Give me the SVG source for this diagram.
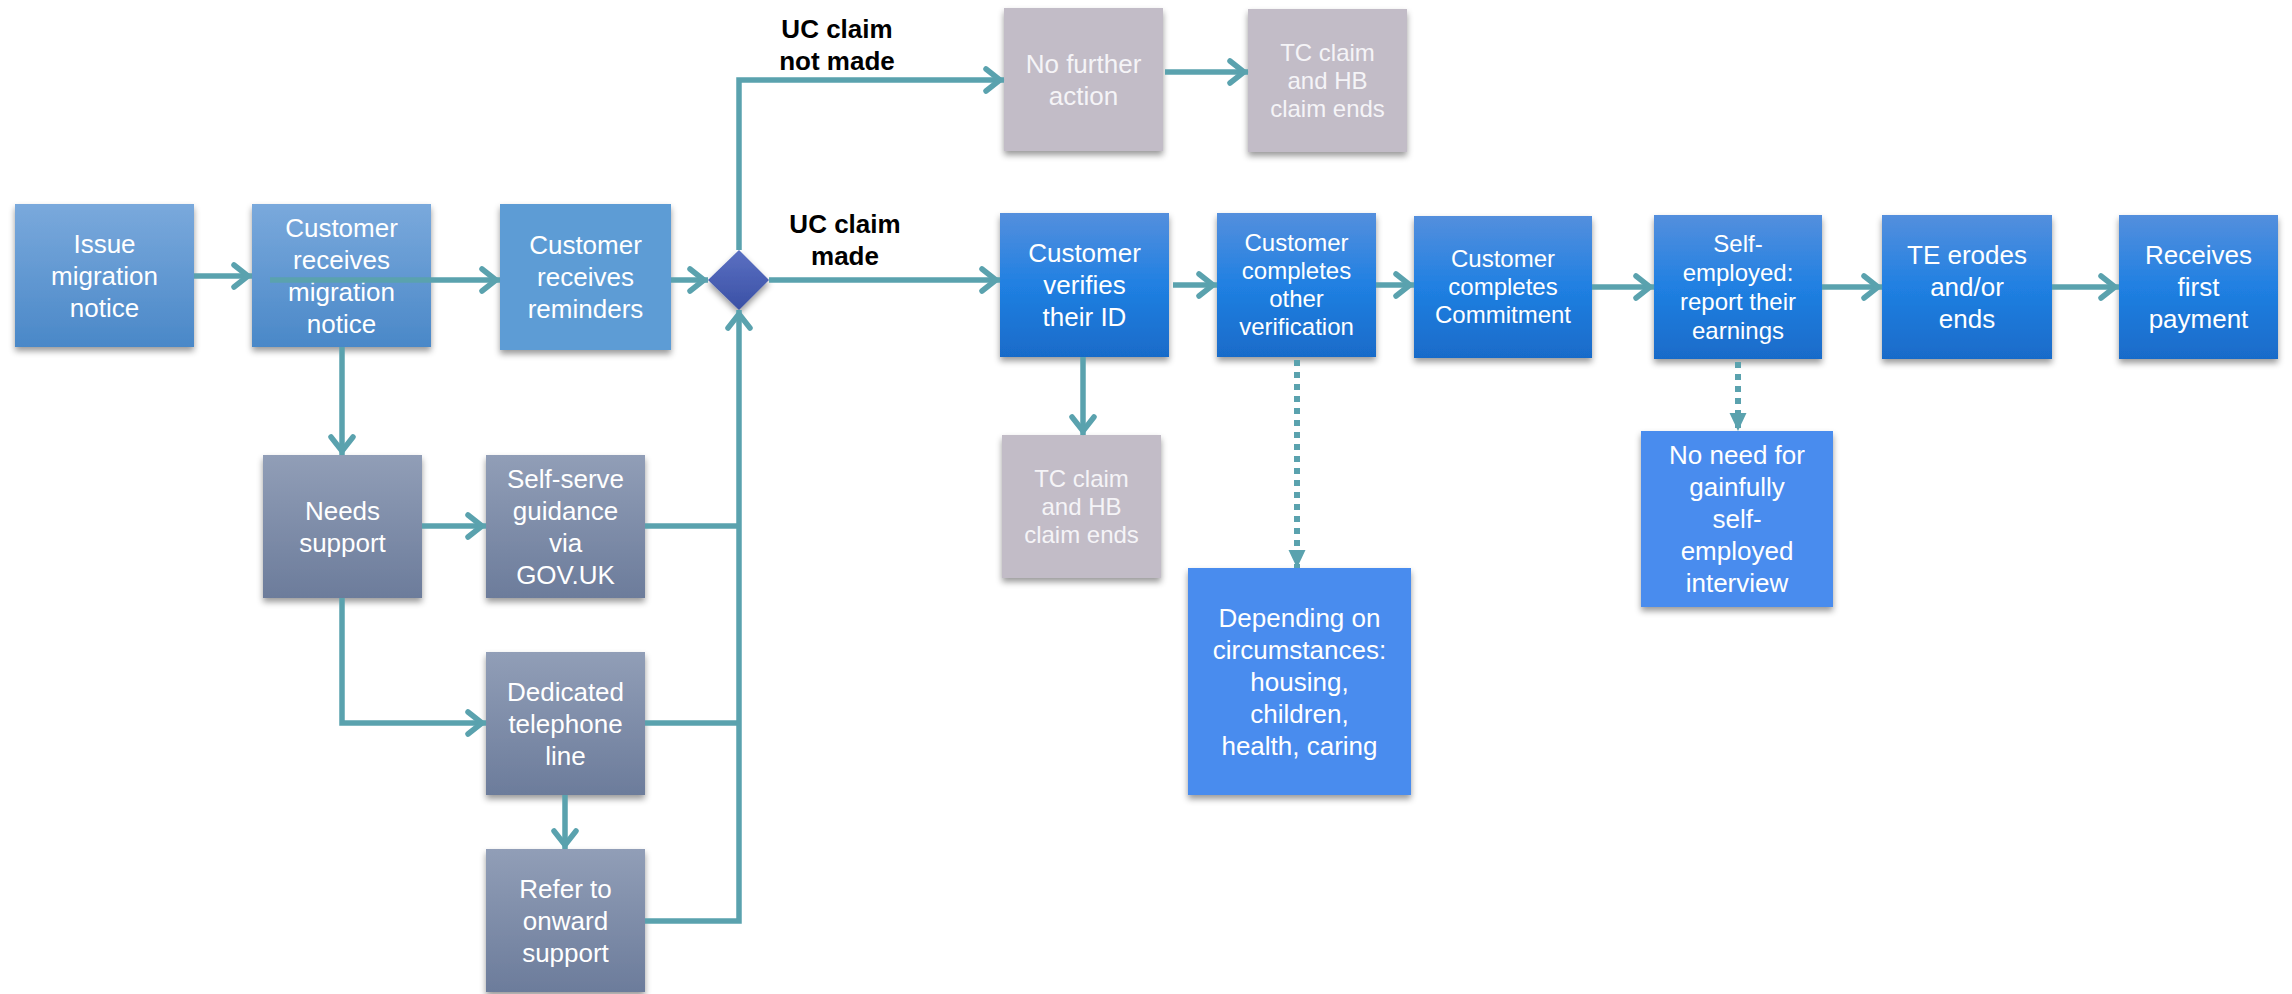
<svg xmlns="http://www.w3.org/2000/svg" width="2292" height="994" viewBox="0 0 2292 994">
<defs>
<linearGradient id="gLight" x1="0" y1="0" x2="0" y2="1"><stop offset="0" stop-color="#7AA9DC"/><stop offset="1" stop-color="#4A88C8"/></linearGradient>
<linearGradient id="gSlate" x1="0" y1="0" x2="0" y2="1"><stop offset="0" stop-color="#919EB7"/><stop offset="1" stop-color="#6C7C9B"/></linearGradient>
<linearGradient id="gBright" x1="0" y1="0" x2="0" y2="1"><stop offset="0" stop-color="#548FDD"/><stop offset="0.5" stop-color="#2080E2"/><stop offset="1" stop-color="#196BC9"/></linearGradient>
<linearGradient id="gDiamond" x1="0" y1="0" x2="0" y2="1"><stop offset="0" stop-color="#5B70C2"/><stop offset="1" stop-color="#3A50A5"/></linearGradient>
<filter id="sh" x="-10%" y="-10%" width="120%" height="130%"><feDropShadow dx="0" dy="4" stdDeviation="3" flood-color="#000" flood-opacity="0.4"/></filter>
<marker id="arr" markerUnits="userSpaceOnUse" markerWidth="30" markerHeight="34" viewBox="-22 -17 30 34" refX="4" refY="0" orient="auto"><path d="M-14,-11 L0,0 L-14,11" fill="none" stroke="#5AA2AE" stroke-width="5.5" stroke-linecap="round" stroke-linejoin="miter"/></marker>
<marker id="tri" markerUnits="userSpaceOnUse" markerWidth="22" markerHeight="22" viewBox="-20 -11 22 22" refX="0" refY="0" orient="auto"><path d="M-18,-8.5 L0,0 L-18,8.5 Z" fill="#5AA2AE"/></marker>
</defs>
<style>
.box{filter:url(#sh)}
.light{fill:url(#gLight)}
.flatlight{fill:#5D9CD5}
.slate{fill:url(#gSlate)}
.bright{fill:url(#gBright)}
.flat{fill:#4A8CEE}
.grey{fill:#C2BCC7}
text{font-family:"Liberation Sans",Arial,sans-serif;text-anchor:middle}
.t26{font-size:26px;fill:#FFFFFF}
.t24{font-size:24px;fill:#FFFFFF}
.tg{fill:#F5F4F7}
.lbl{font-size:26px;font-weight:bold;fill:#000000}
.c{fill:none;stroke:#5AA2AE;stroke-width:5.5;stroke-linejoin:miter}
.ca{marker-end:url(#arr)}
.d{fill:none;stroke:#5AA2AE;stroke-width:6;stroke-dasharray:6 6;marker-end:url(#tri)}
</style>
<rect width="2292" height="994" fill="#FFFFFF"/>

<g id="n-issue"><rect class="box light" x="15" y="204" width="179" height="143"/>
<text class="t26"><tspan x="104.5" y="252.6">Issue</tspan><tspan x="104.5" y="284.6">migration</tspan><tspan x="104.5" y="316.6">notice</tspan></text></g>

<g id="n-custrec"><rect class="box light" x="252" y="204" width="179" height="143"/>
<text class="t26"><tspan x="341.5" y="236.5">Customer</tspan><tspan x="341.5" y="268.5">receives</tspan><tspan x="341.5" y="300.5">migration</tspan><tspan x="341.5" y="332.5">notice</tspan></text></g>

<g id="n-reminders"><rect class="box flatlight" x="500" y="204" width="171" height="146"/>
<text class="t26"><tspan x="585.5" y="254">Customer</tspan><tspan x="585.5" y="286">receives</tspan><tspan x="585.5" y="318">reminders</tspan></text></g>

<g id="n-decision"><path class="box" d="M739,250 L769,280 L739,310 L708,280 Z" fill="url(#gDiamond)"/></g>

<g id="n-needs"><rect class="box slate" x="263" y="455" width="159" height="143"/>
<text class="t26"><tspan x="342.5" y="519.5">Needs</tspan><tspan x="342.5" y="551.5">support</tspan></text></g>

<g id="n-selfserve"><rect class="box slate" x="486" y="455" width="159" height="143"/>
<text class="t26"><tspan x="565.5" y="487.5">Self-serve</tspan><tspan x="565.5" y="519.5">guidance</tspan><tspan x="565.5" y="551.5">via</tspan><tspan x="565.5" y="583.5">GOV.UK</tspan></text></g>

<g id="n-phone"><rect class="box slate" x="486" y="652" width="159" height="143"/>
<text class="t26"><tspan x="565.5" y="700.5">Dedicated</tspan><tspan x="565.5" y="732.5">telephone</tspan><tspan x="565.5" y="764.5">line</tspan></text></g>

<g id="n-refer"><rect class="box slate" x="486" y="849" width="159" height="143"/>
<text class="t26"><tspan x="565.5" y="897.5">Refer to</tspan><tspan x="565.5" y="929.5">onward</tspan><tspan x="565.5" y="961.5">support</tspan></text></g>

<g id="n-nofurther"><rect class="box grey" x="1004" y="8" width="159" height="143"/>
<text class="t26 tg"><tspan x="1083.5" y="72.5">No further</tspan><tspan x="1083.5" y="104.5">action</tspan></text></g>

<g id="n-tcends1"><rect class="box grey" x="1248" y="9" width="159" height="143"/>
<text class="t24 tg"><tspan x="1327.5" y="60.9">TC claim</tspan><tspan x="1327.5" y="88.9">and HB</tspan><tspan x="1327.5" y="116.9">claim ends</tspan></text></g>

<g id="n-verifies"><rect class="box bright" x="1000" y="213" width="169" height="144"/>
<text class="t26"><tspan x="1084.5" y="262">Customer</tspan><tspan x="1084.5" y="294">verifies</tspan><tspan x="1084.5" y="326">their ID</tspan></text></g>

<g id="n-otherver"><rect class="box bright" x="1217" y="213" width="159" height="144"/>
<text class="t24"><tspan x="1296.5" y="251.4">Customer</tspan><tspan x="1296.5" y="279.4">completes</tspan><tspan x="1296.5" y="307.4">other</tspan><tspan x="1296.5" y="335.4">verification</tspan></text></g>

<g id="n-commitment"><rect class="box bright" x="1414" y="216" width="178" height="142"/>
<text class="t24"><tspan x="1503" y="267.4">Customer</tspan><tspan x="1503" y="295.4">completes</tspan><tspan x="1503" y="323.4">Commitment</tspan></text></g>

<g id="n-selfemp"><rect class="box bright" x="1654" y="215" width="168" height="144"/>
<text class="t24"><tspan x="1738" y="251.9">Self-</tspan><tspan x="1738" y="280.9">employed:</tspan><tspan x="1738" y="309.9">report their</tspan><tspan x="1738" y="338.9">earnings</tspan></text></g>

<g id="n-te"><rect class="box bright" x="1882" y="215" width="170" height="144"/>
<text class="t26"><tspan x="1967" y="264">TE erodes</tspan><tspan x="1967" y="296">and/or</tspan><tspan x="1967" y="328">ends</tspan></text></g>

<g id="n-payment"><rect class="box bright" x="2119" y="215" width="159" height="144"/>
<text class="t26"><tspan x="2198.5" y="264">Receives</tspan><tspan x="2198.5" y="296">first</tspan><tspan x="2198.5" y="328">payment</tspan></text></g>

<g id="n-tcends2"><rect class="box grey" x="1002" y="435" width="159" height="143"/>
<text class="t24 tg"><tspan x="1081.5" y="486.9">TC claim</tspan><tspan x="1081.5" y="514.9">and HB</tspan><tspan x="1081.5" y="542.9">claim ends</tspan></text></g>

<g id="n-depending"><rect class="box flat" x="1188" y="568" width="223" height="227"/>
<text class="t26"><tspan x="1299.5" y="626.5">Depending on</tspan><tspan x="1299.5" y="658.5">circumstances:</tspan><tspan x="1299.5" y="690.5">housing,</tspan><tspan x="1299.5" y="722.5">children,</tspan><tspan x="1299.5" y="754.5">health, caring</tspan></text></g>

<g id="n-noneed"><rect class="box flat" x="1641" y="431" width="192" height="176"/>
<text class="t26"><tspan x="1737" y="464">No need for</tspan><tspan x="1737" y="496">gainfully</tspan><tspan x="1737" y="528">self-</tspan><tspan x="1737" y="560">employed</tspan><tspan x="1737" y="592">interview</tspan></text></g>

<g id="connectors">
<path class="c ca" d="M194,276 H252"/>
<path class="c ca" d="M270,280 H500"/>
<path class="c ca" d="M671,280 H708"/>
<path class="c ca" d="M342,347 V455"/>
<path class="c ca" d="M422,526 H486"/>
<path class="c ca" d="M342,598 V723 H486"/>
<path class="c ca" d="M565,795 V849"/>
<path class="c" d="M645,526 H739"/>
<path class="c" d="M645,723 H739"/>
<path class="c ca" d="M645,921 H739 V310"/>
<path class="c ca" d="M739,250 V80 H1004"/>
<path class="c ca" d="M1165,72 H1248"/>
<path class="c ca" d="M769,280 H1000"/>
<path class="c ca" d="M1173,285 H1217"/>
<path class="c ca" d="M1376,285 H1414"/>
<path class="c ca" d="M1592,287 H1654"/>
<path class="c ca" d="M1822,287 H1882"/>
<path class="c ca" d="M2052,287 H2119"/>
<path class="c ca" d="M1083,357 V435"/>
<path class="d" d="M1297,360 V568"/>
<path class="d" d="M1738,362 V431"/>
</g>

<g id="labels">
<text class="lbl"><tspan x="837" y="38">UC claim</tspan><tspan x="837" y="70">not made</tspan></text>
<text class="lbl"><tspan x="845" y="233">UC claim</tspan><tspan x="845" y="265">made</tspan></text>
</g>
</svg>
